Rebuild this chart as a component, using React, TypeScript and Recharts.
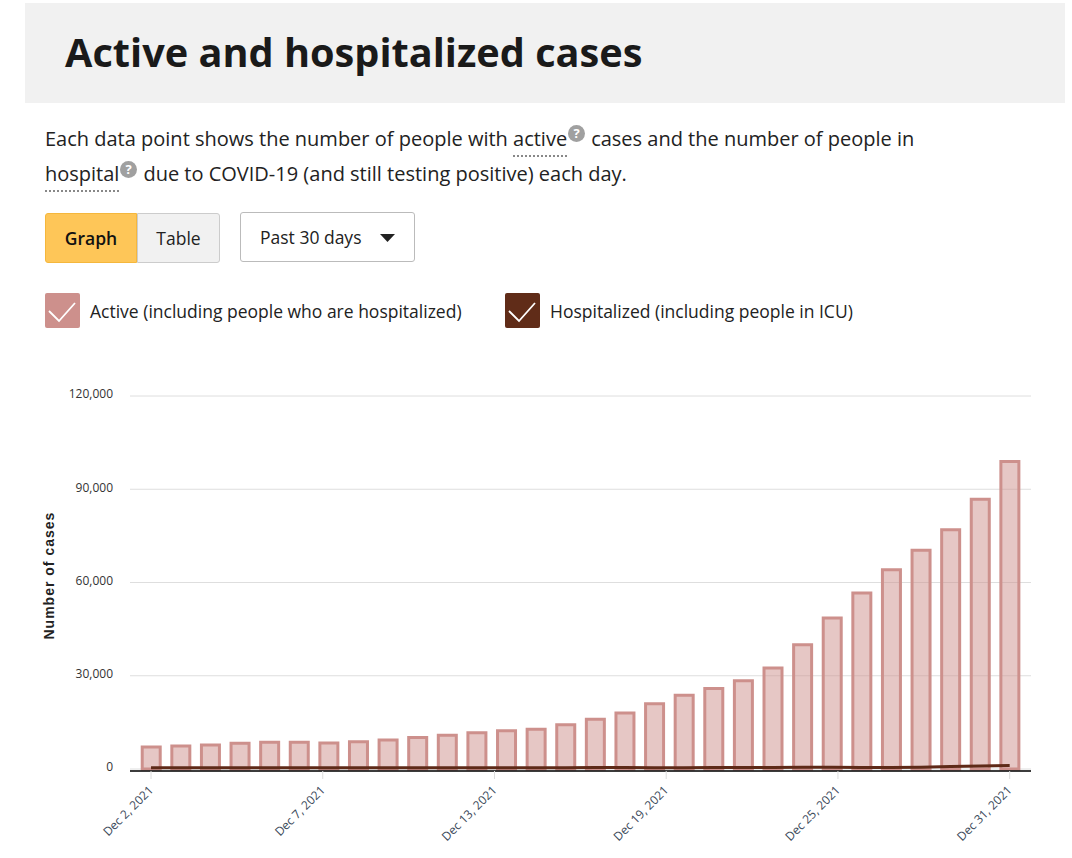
import { ComposedChart, Bar, Line, XAxis, YAxis, CartesianGrid } from 'recharts'

// ── Data ──────────────────────────────────────────────────────────────────────

// day of December 2021
const days = [
  2, 3, 4, 5, 6, 7, 8, 9, 10, 11, 12, 13, 14, 15, 16,
  17, 18, 19, 20, 21, 22, 23, 24, 25, 26, 27, 28, 29, 30, 31,
]
const active = [
  7100, 7400, 7700, 8300, 8600, 8600, 8400, 8800, 9300, 10100,
  10900, 11700, 12300, 12800, 14200, 16000, 18000, 21000, 23700, 25900,
  28400, 32500, 40000, 48600, 56600, 64100, 70400, 77000, 86800, 98900,
]
const hospitalized = [
  400, 400, 400, 400, 400, 400, 400, 400, 400, 400,
  400, 400, 400, 400, 400, 450, 450, 400, 400, 450,
  450, 500, 550, 550, 500, 500, 550, 800, 1000, 1150,
]
// the time axis puts six evenly spaced ticks on the range, labels drop the fraction
const xTicks = [2, 7.8, 13.6, 19.4, 25.2, 31]
const yTicks = [0, 30000, 60000, 90000, 120000]

const rows = days.map((day, i) => ({ day, active: active[i], hospitalized: hospitalized[i] }))

const FONT = '"Open Sans", sans-serif'

// ── Small page bits ───────────────────────────────────────────────────────────

function Help({ left, top }: { left: number; top: number }) {
  return (
    <span
      style={{
        position: 'absolute', left, top, width: 17, height: 17, borderRadius: '50%',
        background: '#a0a0a0', color: '#fff', fontSize: 13, fontWeight: 700,
        lineHeight: '17px', textAlign: 'center',
      }}
    >
      ?
    </span>
  )
}

function Check({ left, color, label }: { left: number; color: string; label: string }) {
  return (
    <>
      <div style={{ position: 'absolute', left, top: 293, width: 35, height: 35, borderRadius: 2, background: color }}>
        <svg width="35" height="35">
          <path d="M4 18 L14 28 L30 10" fill="none" stroke="#fff" strokeWidth="1.8" />
        </svg>
      </div>
      <div style={{ position: 'absolute', left: left + 45, top: 298, fontSize: 17.5, lineHeight: '26px', color: '#222', whiteSpace: 'nowrap' }}>
        {label}
      </div>
    </>
  )
}

function DateTick({ x, y, payload }: any) {
  return (
    <text
      x={x + 3}
      y={y + 10}
      transform={`rotate(-45 ${x + 3} ${y + 10})`}
      textAnchor="end"
      fontSize={12}
      fontFamily={FONT}
      fill="#3b4a5a"
    >
      {`Dec ${Math.floor(payload.value)}, 2021`}
    </text>
  )
}

// ── App ───────────────────────────────────────────────────────────────────────

export default function App() {
  return (
    <div style={{ position: 'absolute', left: 0, top: 0, width: 1072, height: 858, overflow: 'hidden', background: '#fff', fontFamily: FONT }}>
      <div style={{ position: 'absolute', left: 25, top: 3, width: 1040, height: 100, background: '#f1f1f1' }} />
      <div style={{ position: 'absolute', left: 65, top: 26, fontSize: 39.7, fontWeight: 700, lineHeight: '52px', color: '#1a1a1a', whiteSpace: 'nowrap' }}>
        Active and hospitalized cases
      </div>

      <div style={{ position: 'absolute', left: 45, top: 124, fontSize: 20, lineHeight: '30px', color: '#222', whiteSpace: 'nowrap' }}>
        Each data point shows the number of people with{' '}
        <span style={{ borderBottom: '2px dotted #888', paddingBottom: 3 }}>active</span>
        <span style={{ display: 'inline-block', width: 24 }} />
        cases and the number of people in
      </div>
      <Help left={568} top={125} />
      <div style={{ position: 'absolute', left: 45, top: 159, fontSize: 20, lineHeight: '30px', color: '#222', whiteSpace: 'nowrap' }}>
        <span style={{ borderBottom: '2px dotted #888', paddingBottom: 3 }}>hospital</span>
        <span style={{ display: 'inline-block', width: 24 }} />
        due to COVID-19 (and still testing positive) each day.
      </div>
      <Help left={120} top={161} />

      <div style={{ position: 'absolute', left: 45, top: 213, width: 90, height: 48, background: '#fec658', border: '1px solid #f5b73c', borderRadius: '3px 0 0 3px', fontSize: 17.5, fontWeight: 600, lineHeight: '48px', textAlign: 'center', color: '#111' }}>
        Graph
      </div>
      <div style={{ position: 'absolute', left: 137, top: 213, width: 81, height: 48, background: '#f1f1f1', border: '1px solid #ccc', borderRadius: '0 3px 3px 0', fontSize: 17.5, lineHeight: '48px', textAlign: 'center', color: '#222' }}>
        Table
      </div>
      <div style={{ position: 'absolute', left: 240, top: 212, width: 173, height: 48, background: '#fff', border: '1px solid #bbb', borderRadius: 3, fontSize: 17.5, lineHeight: '48px', color: '#222' }}>
        <span style={{ position: 'absolute', left: 19 }}>Past 30 days</span>
        <svg width="16" height="10" style={{ position: 'absolute', left: 139, top: 21 }}>
          <path d="M0 0 L15 0 L7.5 8 Z" fill="#222" />
        </svg>
      </div>

      <Check left={45} color="#cd908c" label="Active (including people who are hospitalized)" />
      <Check left={505} color="#602c18" label="Hospitalized (including people in ICU)" />

      <div style={{ position: 'absolute', left: 0, top: 380 }}>
        <ComposedChart
          width={1072}
          height={478}
          data={rows}
          margin={{ top: 16, right: 41, left: 0, bottom: 0 }}
        >
          <CartesianGrid vertical={false} stroke="#dedede" />
          <XAxis
            dataKey="day"
            type="number"
            domain={[1.29, 31.72]}
            ticks={xTicks}
            interval={0}
            height={87}
            axisLine={{ stroke: '#000', strokeWidth: 1.5 }}
            tickLine={{ stroke: '#ddd' }}
            tickSize={8}
            tick={<DateTick />}
          />
          <YAxis
            width={130}
            domain={[-640, 120000]}
            ticks={yTicks}
            interval={0}
            axisLine={false}
            tickLine={false}
            tickMargin={11}
            tick={{ fontSize: 12, fontFamily: FONT, fill: '#333', dy: -2 }}
            tickFormatter={(v: number) => v.toLocaleString('en-US')}
            label={{
              value: 'Number of cases',
              angle: -90,
              position: 'insideLeft',
              offset: 0,
              dx: 49,
              dy: 56,
              style: { fontFamily: '"Liberation Sans", sans-serif', fontSize: 14, fontWeight: 700, fill: '#222', letterSpacing: 1 },
            }}
          />
          <Bar
            dataKey="active"
            barSize={18}
            fill="#cd908c"
            fillOpacity={0.5}
            stroke="#cd908c"
            strokeWidth={3}
            isAnimationActive={false}
          />
          <Line
            dataKey="hospitalized"
            stroke="#5e2a18"
            strokeWidth={3}
            dot={false}
            activeDot={false}
            isAnimationActive={false}
          />
        </ComposedChart>
      </div>
    </div>
  )
}
